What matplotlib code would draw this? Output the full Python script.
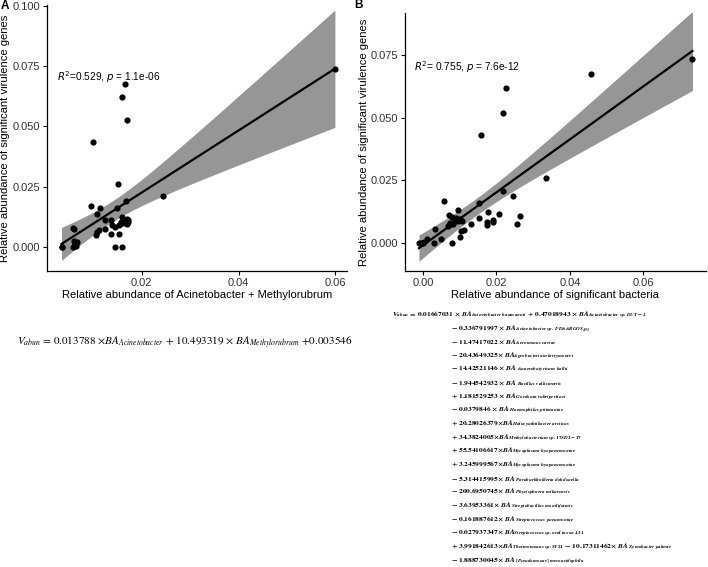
import numpy as np
import matplotlib
matplotlib.use("Agg")
import matplotlib.pyplot as plt

plt.rcParams['font.family'] = ['Liberation Sans', 'DejaVu Sans']
plt.rcParams['mathtext.fontset'] = 'custom'
plt.rcParams['mathtext.rm'] = 'STIXGeneral:bold'
plt.rcParams['mathtext.it'] = 'STIXGeneral:italic:bold'
plt.rcParams['mathtext.bf'] = 'STIXGeneral:bold'

# ---------------- data ----------------
a_x = [0.0599, 0.01655, 0.0158, 0.0169, 0.0099, 0.0151, 0.0243, 0.0167, 0.0095, 0.0114,
       0.0148, 0.0107, 0.0123, 0.0136, 0.0160, 0.0169, 0.0172, 0.0164, 0.0172, 0.0159,
       0.0170, 0.0152, 0.0145, 0.0138, 0.0123, 0.0112, 0.0107, 0.0105, 0.0136, 0.0153,
       0.0058, 0.0060, 0.0034, 0.0036, 0.0057, 0.0062, 0.0067, 0.0059, 0.0064, 0.0144,
       0.0158, 0.0156, 0.0166, 0.0061]
a_y = [0.0736, 0.0677, 0.0620, 0.0524, 0.0433, 0.0261, 0.0210, 0.0189, 0.0170, 0.0163,
       0.0161, 0.0135, 0.0113, 0.0113, 0.0124, 0.0117, 0.0110, 0.0106, 0.0102, 0.0098,
       0.0094, 0.0090, 0.0082, 0.0089, 0.0072, 0.0068, 0.0063, 0.0051, 0.0055, 0.0055,
       0.0079, 0.0076, 0.0000, 0.0001, 0.0000, 0.0014, 0.0021, 0.0025, 0.0003, 0.0000,
       0.0000, 0.0105, 0.0098, 0.0007]

b_x = [0.0734, 0.0458, 0.0227, 0.0218, 0.0159, 0.0336, 0.0218, 0.0246, 0.0057, 0.0153,
       0.0095, 0.0178, 0.0207, 0.0153, 0.0264, 0.0255, 0.0192, 0.0192, 0.0175, 0.0175,
       0.0130, 0.0112, 0.0104, 0.0102, 0.0079, 0.0071, 0.0078, 0.0089, 0.0100, 0.0071,
       0.0074, 0.0086, 0.0096, 0.0107, 0.0032, 0.0031, 0.0050, 0.0010, -0.0011, -0.0006,
       0.0000, 0.0004, 0.0068, 0.0083]
b_y = [0.0734, 0.0676, 0.0618, 0.0520, 0.0431, 0.0258, 0.0207, 0.0188, 0.0166, 0.0160,
       0.0133, 0.0122, 0.0116, 0.0102, 0.0108, 0.0077, 0.0092, 0.0085, 0.0085, 0.0072,
       0.0078, 0.0053, 0.0048, 0.0023, 0.0000, 0.0112, 0.0106, 0.0100, 0.0095, 0.0072,
       0.0080, 0.0088, 0.0090, 0.0087, 0.0057, 0.0000, 0.0015, 0.0015, 0.0000, -0.0001,
       0.0000, 0.0004, 0.0068, 0.0078]

a_ticks_x = [0.02, 0.04, 0.06]
a_ticks_y = [0.000, 0.025, 0.050, 0.075, 0.100]
b_ticks_x = [0.00, 0.02, 0.04, 0.06]
b_ticks_y = [0.000, 0.025, 0.050, 0.075]

a_xlabel = "Relative abundance of Acinetobacter + Methylorubrum"
b_xlabel = "Relative abundance of significant bacteria"
ylabel = "Relative abundance of significant virulence genes"
a_stat = r"$R^2$=0.529, $p$ = 1.1e-06"
b_stat = r"$R^2$= 0.755, $p$ = 7.6e-12"

eq_a = (r"$V_{abun}$ = 0.013788 ×$BA_{Acinetobacter}$ + 10.493319 × "
        r"$BA_{Methylorubrum}$ +0.003546")

eq_b = [
    r"$V_{abun}$ = 0.01667031 × $BA_{Acinetobacter\ baumannii}$ + 0.47018943 × $BA_{Acinetobacter\ sp.DUT-2}$",
    r"− 0.336791997 × $BA_{Acinetobacter\ sp.\ FDAARGOS_{493}}$",
    r"− 11.47417022 × $BA_{Aeromonas\ caviae}$",
    r"− 20.43649325× $BA_{Agrobacterium\ larrymoorei}$",
    r"− 14.42521146 × $BA_{\ Anaerobutyricum\ hallii}$",
    r"− 1.944542932 × $BA_{\ Bacillus\ vallismortis}$",
    r"+ 1.181529253 × $BA_{Gordonia\ rubripertinct}$",
    r"− 0.0379846 × $BA_{\ Haemophilus\ pittmaniae}$",
    r"+ 20.28026379×$BA_{Halocynthiibacter\ arcticus}$",
    r"+ 34.3824005×$BA_{Methylobacterium\ sp.17SD2-17}$",
    r"+ 55.54106617×$BA_{Mycoplasma\ hyopneumoniae}$",
    r"+ 3.245999567×$BA_{Mycoplasma\ hyopneumoniae}$",
    r"− 5.314415995× $BA_{\ Paraburkholderia\ dokdonella}$",
    r"− 200.6950745× $BA_{\ Phycisphaera\ mikurensis}$",
    r"− 3.63953361× $BA_{\ Streptobacillus\ moniliformis}$",
    r"− 0.161887612× $BA_{\ Streptococcus\ pneumoniae}$",
    r"− 0.027937347× $BA_{Streptococcus\ sp.oral\ taxon\ 431}$",
    r"+ 3.991842613×$BA_{Thermomonas\ sp.SY21}$ − 10.17311462× $BA_{\ Zymobacter\ palmae}$",
    r"− 1.888730045× $BA_{\ [Pseudomonas]\ mesoacidophila}$",
]

T975 = 2.018

W, H = 708, 567
fig = plt.figure(figsize=(W / 100, H / 100), dpi=100)


def fit_panel(ax, x, y):
    x = np.asarray(x)
    y = np.asarray(y)
    n = len(x)
    b1, b0 = np.polyfit(x, y, 1)
    res = y - (b0 + b1 * x)
    s = np.sqrt(np.sum(res ** 2) / (n - 2))
    xm = x.mean()
    sxx = np.sum((x - xm) ** 2)
    xs = np.linspace(x.min(), x.max(), 200)
    yh = b0 + b1 * xs
    se = s * np.sqrt(1 / n + (xs - xm) ** 2 / sxx)
    ax.fill_between(xs, yh - T975 * se, yh + T975 * se, color='#969696', lw=0, zorder=1)
    ax.scatter(x, y, s=20, color='black', zorder=2, lw=0)
    ax.plot(xs, yh, color='black', lw=1.6, zorder=3)


def style(ax, xt, yt, xfmt, yfmt, xl, ylx):
    for sp in ['top', 'right']:
        ax.spines[sp].set_visible(False)
    for sp in ['left', 'bottom']:
        ax.spines[sp].set_linewidth(0.9)
    ax.set_xticks(xt)
    ax.set_xticklabels([xfmt.format(v) for v in xt])
    ax.set_yticks(yt)
    ax.set_yticklabels([yfmt.format(v) for v in yt])
    ax.tick_params(labelsize=8.0, colors='black', labelcolor='#333333',
                   length=3, width=0.8, direction='out', pad=2)
    ax.set_xlabel(xl, fontsize=8.0, labelpad=1.5)
    ax.set_ylabel(ylabel, fontsize=8.1)
    ax.yaxis.set_label_coords(ylx, 0.5)


axA = fig.add_axes([47 / W, 1 - 270.7 / H, 300 / W, (270.7 - 5) / H])
fit_panel(axA, a_x, a_y)
axA.set_xlim(0.0004, 0.0624)
axA.set_ylim(-0.0099, 0.1003)
style(axA, a_ticks_x, a_ticks_y, "{:.2f}", "{:.3f}", a_xlabel, (10 - 47) / 300)
axA.text(0.0024, 0.0703, a_stat, fontsize=7.3, va='center', ha='left',
         math_fontfamily='dejavusans')

axB = fig.add_axes([405 / W, 1 - 270.7 / H, 300.7 / W, (270.7 - 13.3) / H])
fit_panel(axB, b_x, b_y)
axB.set_xlim(-0.0049, 0.0770)
axB.set_ylim(-0.0110, 0.0916)
style(axB, b_ticks_x, b_ticks_y, "{:.2f}", "{:.3f}", b_xlabel, (369 - 405) / 300.7)
axB.text(-0.0025, 0.0703, b_stat, fontsize=7.3, va='center', ha='left',
         math_fontfamily='dejavusans')

fig.text(1 / W, 1 - 6.3 / H, "A", fontsize=8.5, fontweight='bold', va='center', ha='left')
fig.text(354 / W, 1 - 5 / H, "B", fontsize=8.5, fontweight='bold', va='center', ha='left')

fig.text(17 / W, 1 - 343 / H, eq_a, fontsize=8.0, va='center', ha='left',
         math_fontfamily='stix', family='STIXGeneral')

for i, line in enumerate(eq_b):
    xpix = 392 if i == 0 else 451
    ypix = 315 + i * 13.67
    fig.text(xpix / W, 1 - ypix / H, line, fontsize=5.3, va='center', ha='left',
             math_fontfamily='custom', family='STIXGeneral', fontweight='bold')

fig.savefig("out.png", dpi=100, facecolor='white')
